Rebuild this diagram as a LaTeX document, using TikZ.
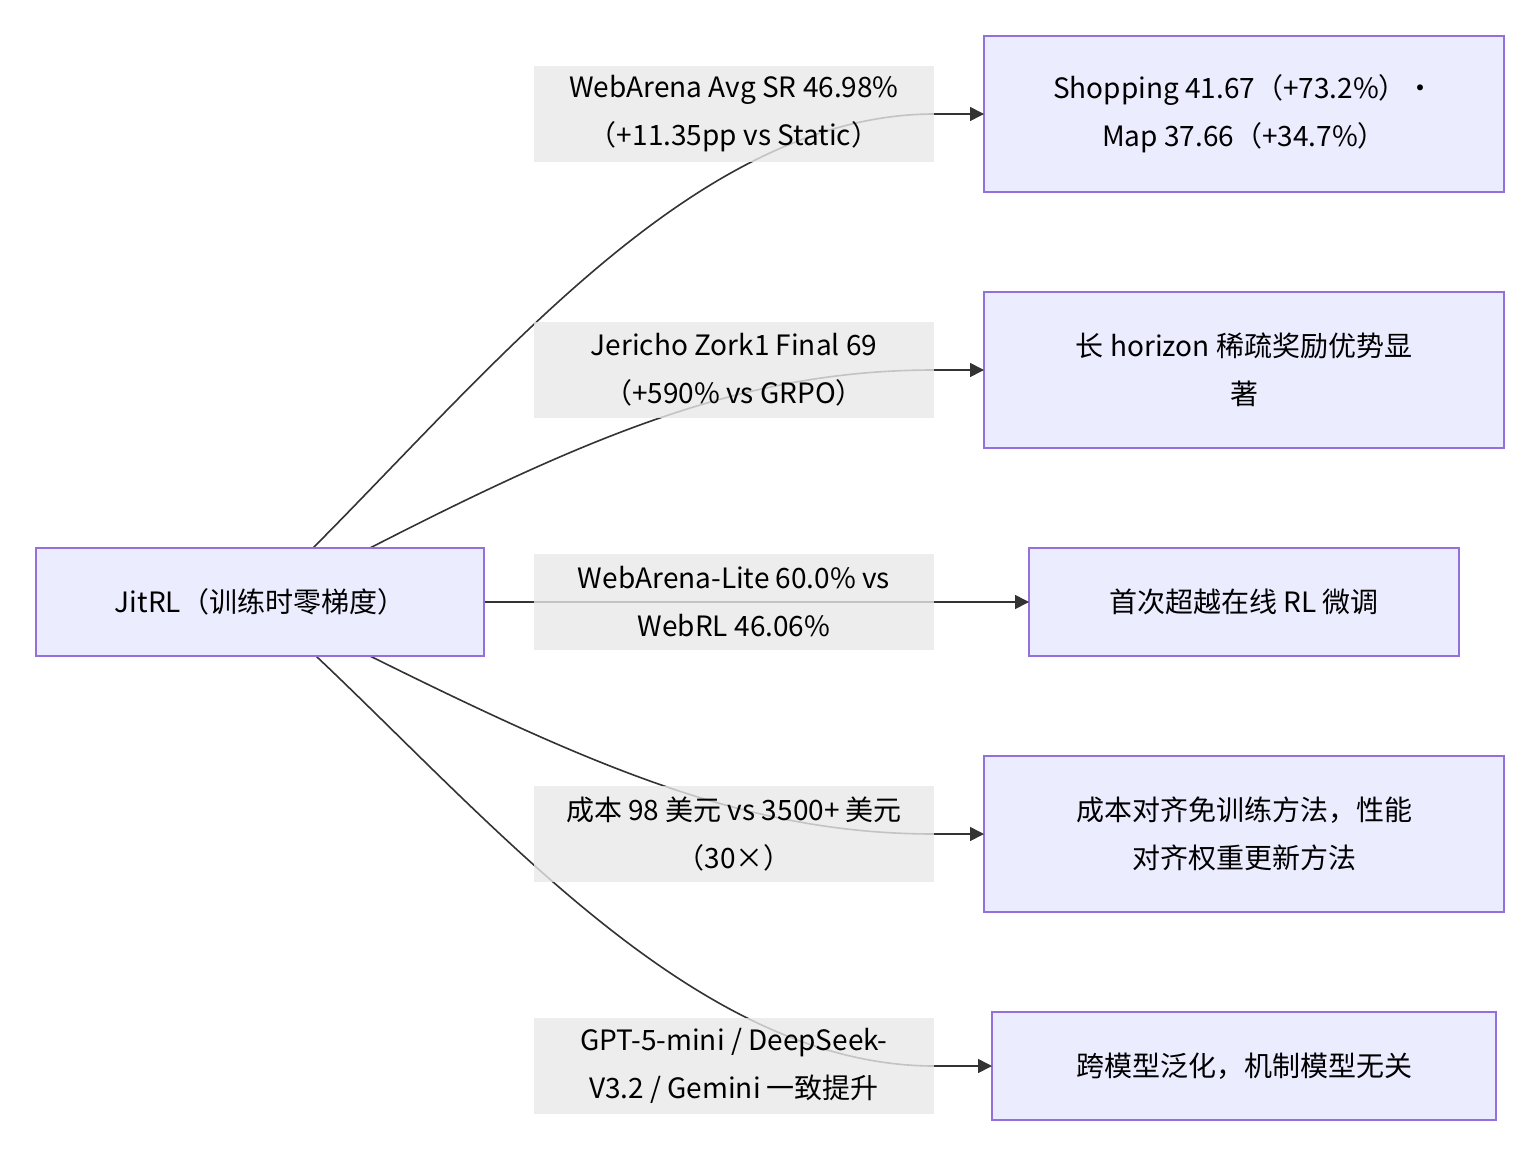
\documentclass[tikz,border=0pt]{standalone}
\usepackage{fontspec}
\setmainfont{Noto Sans CJK SC}
\usepackage{tikz}
\usetikzlibrary{arrows.meta,backgrounds}
\definecolor{boxfill}{HTML}{ECECFF}
\definecolor{boxline}{HTML}{9370DB}
\definecolor{lblfill}{HTML}{E8E8E8}
\definecolor{edge}{HTML}{333333}

\begin{document}
\begin{tikzpicture}[
x=0.5pt, y=-0.5pt,
    B/.style = {rectangle, draw=boxline, fill=boxfill, line width=0.8pt,% boxes
                align=center, font=\fontsize{14}{24}\selectfont,
                inner sep=0pt, outer sep=0pt},
    L/.style = {rectangle, fill=lblfill, fill opacity=0.8, text opacity=1,% edge labels
                minimum width=200pt, minimum height=48pt, align=center,
                font=\fontsize{14}{24}\selectfont, inner sep=0pt},
    E/.style = {draw=edge, line width=0.8pt},
    A/.style = {E, -{Triangle[length=7pt,width=7pt]}},
                        ]
\useasboundingbox (0,0) rectangle (1540,1156);
% root
\node[B, minimum width=224pt, minimum height=54pt] (root) at (260,602) {JitRL（训练时零梯度）};
% labels
\node[L] (l1) at (734,114)  {WebArena Avg SR 46.98\%\\（+11.35pp vs Static）};
\node[L] (l2) at (734,370)  {Jericho Zork1 Final 69\\（+590\% vs GRPO）};
\node[L] (l3) at (734,602)  {WebArena-Lite 60.0\% vs\\WebRL 46.06\%};
\node[L] (l4) at (734,834)  {成本 98 美元 vs 3500+ 美元\\（30×）};
\node[L] (l5) at (734,1066) {GPT-5-mini / DeepSeek-\\V3.2 / Gemini 一致提升};
% results
\node[B, minimum width=260pt, minimum height=78pt] (r1) at (1244,114)  {Shopping 41.67（+73.2\%）·\\Map 37.66（+34.7\%）};
\node[B, minimum width=260pt, minimum height=78pt] (r2) at (1244,370)  {长 horizon 稀疏奖励优势显\\著};
\node[B, minimum width=215pt, minimum height=54pt] (r3) at (1244,602)  {首次超越在线 RL 微调};
\node[B, minimum width=260pt, minimum height=78pt] (r4) at (1244,834)  {成本对齐免训练方法，性能\\对齐权重更新方法};
\node[B, minimum width=252pt, minimum height=54pt] (r5) at (1244,1066) {跨模型泛化，机制模型无关};
% edges
\begin{scope}[on background layer]
\draw[E] ([xshift=26.5pt]root.north) .. controls (500,360) and (700,114) .. (l1.east);
\draw[E] ([xshift=55pt]root.north) .. controls (600,430) and (750,370) .. (l2.east);
\draw[E] (root.east) -- (l3.east);
\draw[E] ([xshift=55pt]root.south) .. controls (600,770) and (750,834) .. (l4.east);
\draw[E] ([xshift=28pt]root.south) .. controls (500,830) and (700,1066) .. (l5.east);
\end{scope}
\foreach \i in {1,...,5}
    \draw[A] (l\i.east) -- (r\i.west);
\end{tikzpicture}
\end{document}
